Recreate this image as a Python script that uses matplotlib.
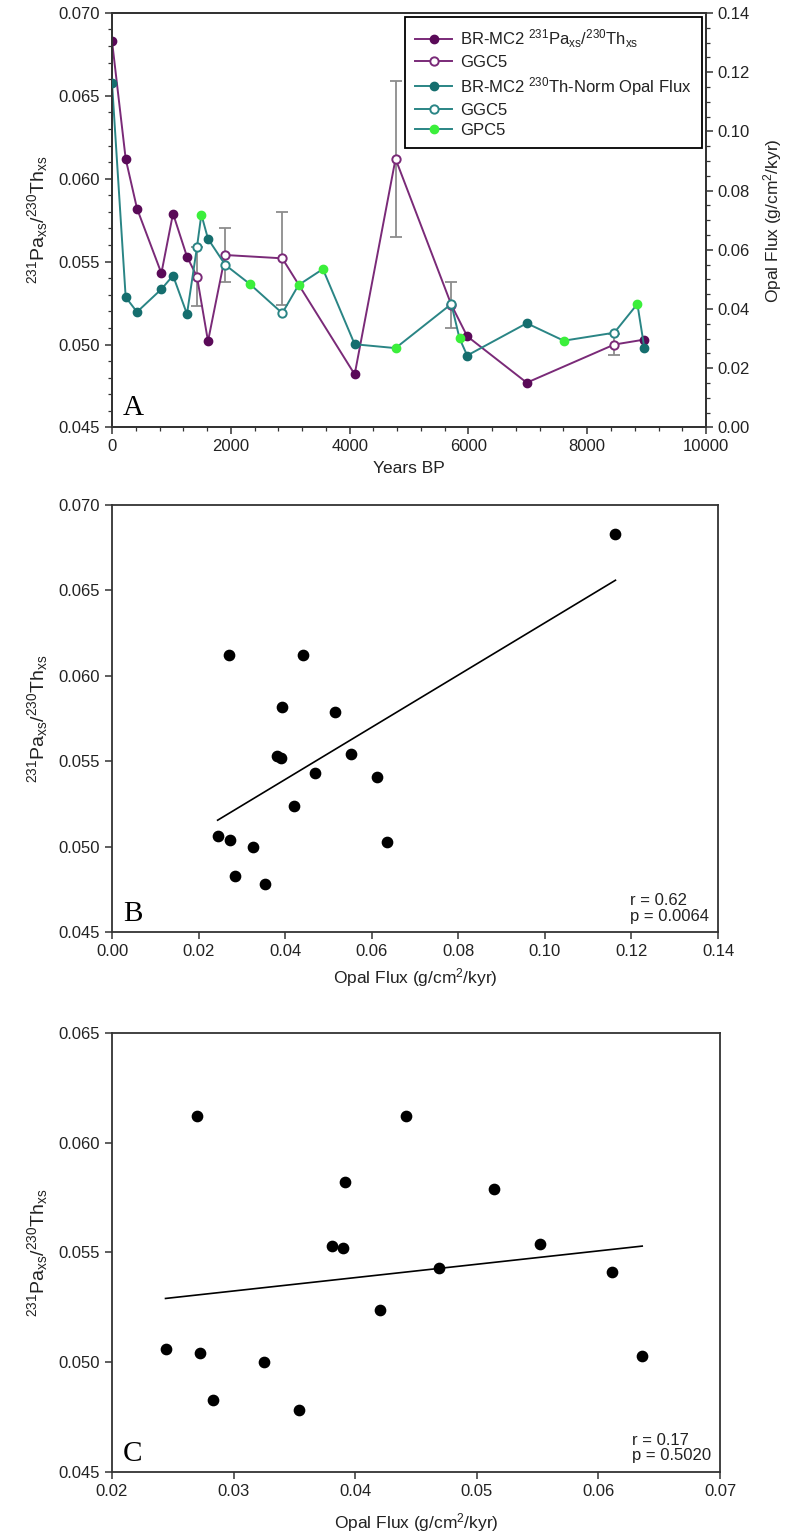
import numpy as np
import matplotlib
matplotlib.use('Agg')
import matplotlib.pyplot as plt
from matplotlib.lines import Line2D
from matplotlib.ticker import MultipleLocator, FormatStrFormatter

plt.rcParams['font.family'] = ['Liberation Sans', 'DejaVu Sans']
plt.rcParams['mathtext.fontset'] = 'custom'
plt.rcParams['mathtext.rm'] = 'Liberation Sans'
plt.rcParams['mathtext.it'] = 'Liberation Sans'

# --- panel A data ---
brmc2_age = [0, 230, 421, 831, 1027, 1262, 1616, 4085, 5979, 6982, 8962]
brmc2_pa = [0.0683, 0.0612, 0.0582, 0.0543, 0.0579, 0.0553, 0.0502, 0.0482, 0.0505, 0.0477, 0.0503]
brmc2_opal = [0.1163, 0.0440, 0.0390, 0.0467, 0.0513, 0.0383, 0.0637, 0.0281, 0.0243, 0.0352, 0.0268]

ggc5_age = [1430, 1907, 2866, 4773, 5712, 8455]
ggc5_pa = [0.0541, 0.0554, 0.0552, 0.0612, 0.0524, 0.0500]
ggc5_pa_err = [0.0018, 0.0016, 0.0028, 0.0047, 0.0014, 0.00065]
ggc5_opal_age = [1430, 1907, 2866, 5712, 8455]
ggc5_opal = [0.0609, 0.0549, 0.0386, 0.0417, 0.0320]

gpc5_age = [1504, 2317, 3140, 3550, 4773, 5850, 7605, 8844]
gpc5_opal = [0.0719, 0.0485, 0.0481, 0.0535, 0.0268, 0.0301, 0.0293, 0.0417]

# --- panel B/C data: opal flux vs Pa/Th pairs ---
opal_flux = [0.1163, 0.0270, 0.0442, 0.0392, 0.0514, 0.0381, 0.0390, 0.0552, 0.0469,
             0.0611, 0.0420, 0.0244, 0.0272, 0.0325, 0.0636, 0.0283, 0.0354]
pa_th = [0.0683, 0.0612, 0.0612, 0.0582, 0.0579, 0.0553, 0.0552, 0.0554, 0.0543,
         0.0541, 0.0524, 0.0506, 0.0504, 0.0500, 0.0503, 0.0483, 0.0478]

purple = '#7a2a78'
purple_dark = '#5a0a58'
teal = '#2a8585'
teal_dark = '#156e6e'
green = '#3bef3b'
spine_col = '#333333'
txt = '#222222'

ylab = r'$^{231}$Pa$_{xs}$/$^{230}$Th$_{xs}$'
xlab = r'Opal Flux (g/cm$^2$/kyr)'

fig = plt.figure(figsize=(7.95, 15.36), dpi=100)


def style(ax, minor=True):
    for s in ax.spines.values():
        s.set_color(spine_col)
        s.set_linewidth(1.3)
    ax.tick_params(direction='out', length=5, width=1.1, colors=spine_col,
                   labelcolor=txt, labelsize=12)
    ax.tick_params(which='minor', direction='out', length=3, width=0.9, colors=spine_col)


# ---------------- Panel A ----------------
ax = fig.add_axes([0.1409, 0.7217, 0.7472, 0.2699])
ax2 = ax.twinx()

pa_age = np.array(brmc2_age + ggc5_age)
pa_all = np.array(brmc2_pa + ggc5_pa)
o = np.argsort(pa_age)
ax.plot(pa_age[o], pa_all[o], '-', color=purple, lw=1.4, zorder=2)
ax.errorbar(ggc5_age, ggc5_pa, yerr=ggc5_pa_err, fmt='none', ecolor='#8c8c8c',
            elinewidth=1.3, capsize=4.5, capthick=1.3, zorder=1)
ax.plot(brmc2_age, brmc2_pa, 'o', ms=6, mfc=purple_dark, mec=purple_dark, zorder=3)
ax.plot(ggc5_age, ggc5_pa, 'o', ms=6, mfc='white', mec=purple, mew=1.4, zorder=3)

op_age = np.array(brmc2_age + ggc5_opal_age + gpc5_age)
op_all = np.array(brmc2_opal + ggc5_opal + gpc5_opal)
o = np.argsort(op_age)
ax2.plot(op_age[o], op_all[o], '-', color=teal, lw=1.4, zorder=2)
ax2.plot(brmc2_age, brmc2_opal, 'o', ms=6, mfc=teal_dark, mec=teal_dark, zorder=3)
ax2.plot(ggc5_opal_age, ggc5_opal, 'o', ms=6, mfc='white', mec=teal, mew=1.4, zorder=3)
ax2.plot(gpc5_age, gpc5_opal, 'o', ms=6, mfc=green, mec=green, zorder=3)

ax.set_xlim(0, 10000)
ax.set_ylim(0.045, 0.070)
ax2.set_ylim(0.0, 0.14)
ax.xaxis.set_major_locator(MultipleLocator(2000))
ax.xaxis.set_minor_locator(MultipleLocator(400))
ax.yaxis.set_major_locator(MultipleLocator(0.005))
ax.yaxis.set_minor_locator(MultipleLocator(0.001))
ax.yaxis.set_major_formatter(FormatStrFormatter('%.3f'))
ax2.yaxis.set_major_locator(MultipleLocator(0.02))
ax2.yaxis.set_minor_locator(MultipleLocator(0.005))
ax2.yaxis.set_major_formatter(FormatStrFormatter('%.2f'))
style(ax)
style(ax2)
ax.set_xlabel('Years BP', fontsize=12.5, color=txt, labelpad=5)
ax.set_ylabel(ylab, fontsize=14, color=txt, labelpad=6)
ax2.set_ylabel(xlab, fontsize=12.5, color=txt, labelpad=8)
ax.text(0.018, 0.03, 'A', transform=ax.transAxes, fontsize=21,
        family='Liberation Serif', color='black')

handles = [
    Line2D([], [], color=purple, lw=1.4, marker='o', ms=6, mfc=purple_dark, mec=purple_dark),
    Line2D([], [], color=purple, lw=1.4, marker='o', ms=6, mfc='white', mec=purple, mew=1.4),
    Line2D([], [], color=teal, lw=1.4, marker='o', ms=6, mfc=teal_dark, mec=teal_dark),
    Line2D([], [], color=teal, lw=1.4, marker='o', ms=6, mfc='white', mec=teal, mew=1.4),
    Line2D([], [], color=teal, lw=1.4, marker='o', ms=6, mfc=green, mec=green),
]
labels = ['BR-MC2 ' + ylab, 'GGC5', r'BR-MC2 $^{230}$Th-Norm Opal Flux', 'GGC5', 'GPC5']
leg = ax2.legend(handles, labels, loc='upper right', bbox_to_anchor=(1.0, 1.0),
                 borderaxespad=0.25, fontsize=12, frameon=True, fancybox=False,
                 edgecolor='black', framealpha=1, handlelength=2.2, handletextpad=0.5,
                 labelspacing=0.3, borderpad=0.6)
leg.get_frame().set_linewidth(1.3)
for t in leg.get_texts():
    t.set_color(txt)


def scatter_panel(rect, xs, ys, xlim, xstep, xfmt, ylim, letter, rtxt, xpad):
    a = fig.add_axes(rect)
    a.scatter(xs, ys, s=55, color='black', zorder=3)
    k, b = np.polyfit(xs, ys, 1)
    xl = np.array([min(xs), max(xs)])
    a.plot(xl, k * xl + b, '-', color='black', lw=1.2)
    a.set_xlim(*xlim)
    a.set_ylim(*ylim)
    a.xaxis.set_major_locator(MultipleLocator(xstep))
    a.xaxis.set_major_formatter(FormatStrFormatter(xfmt))
    a.yaxis.set_major_locator(MultipleLocator(0.005))
    a.yaxis.set_major_formatter(FormatStrFormatter('%.3f'))
    style(a)
    a.set_xlabel(xlab, fontsize=12.5, color=txt, labelpad=xpad)
    a.set_ylabel(ylab, fontsize=14, color=txt, labelpad=6)
    a.text(0.018, 0.025, letter, transform=a.transAxes, fontsize=21,
           family='Liberation Serif', color='black')
    a.text(0.985, 0.02, rtxt, transform=a.transAxes, fontsize=12,
           ha='right', va='bottom', multialignment='left', color=txt, linespacing=1.05)
    return a


# ---------------- Panel B ----------------
scatter_panel([0.1409, 0.3932, 0.7623, 0.2780], opal_flux, pa_th,
              (0.0, 0.14), 0.02, '%.2f', (0.045, 0.070), 'B', 'r = 0.62\np = 0.0064', 5)

# ---------------- Panel C (without the core-top outlier) ----------------
scatter_panel([0.1409, 0.0417, 0.7648, 0.2858], opal_flux[1:], pa_th[1:],
              (0.02, 0.07), 0.01, '%.2f', (0.045, 0.065), 'C', 'r = 0.17\np = 0.5020', 9)

fig.savefig('out.png', dpi=100)
